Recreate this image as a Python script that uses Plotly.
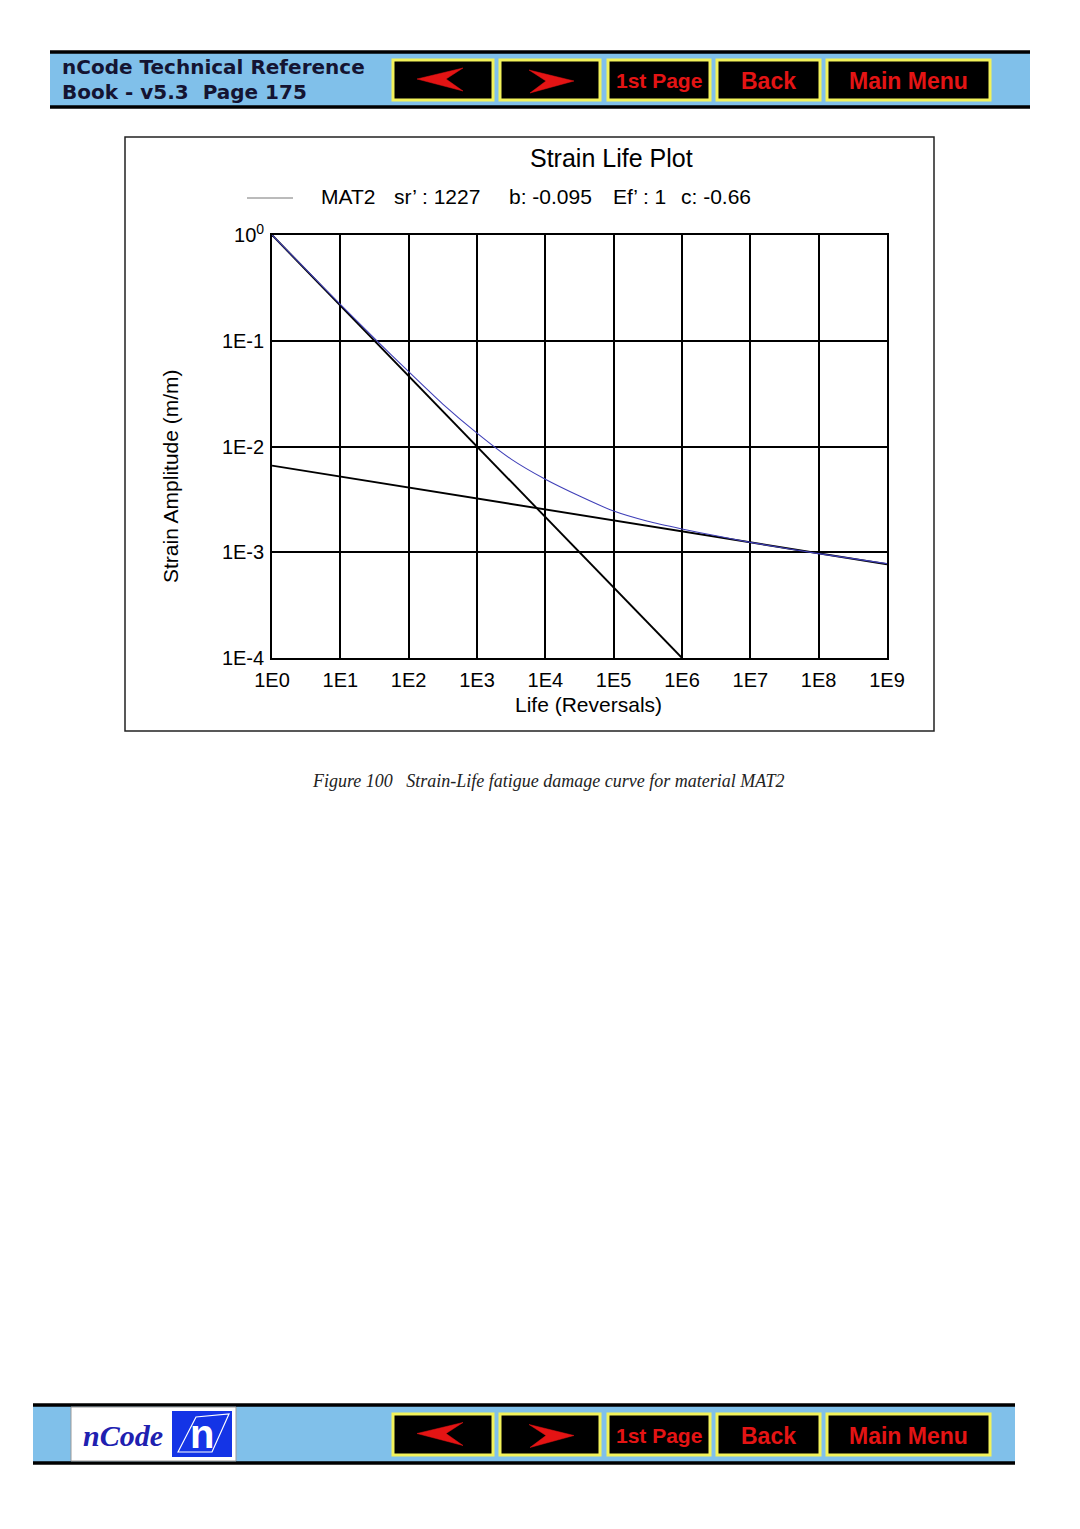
import plotly.graph_objects as go

W, H = 1080, 1529
OFF = 8  # page body margin of the html page

# ---------------- data ----------------
x_tick_vals = [1e0, 1e1, 1e2, 1e3, 1e4, 1e5, 1e6, 1e7, 1e8, 1e9]
x_tick_text = ["1E0", "1E1", "1E2", "1E3", "1E4", "1E5", "1E6", "1E7", "1E8", "1E9"]
y_tick_vals = [1e0, 1e-1, 1e-2, 1e-3, 1e-4]
y_tick_text = ["10<sup>0</sup>", "1E-1", "1E-2", "1E-3", "1E-4"]

plastic_life = [1e0, 1e6]
plastic_strain = [1.0, 1.0e-4]

elastic_life = [1e0, 1e9]
elastic_strain = [0.0066, 0.00077]

total_life = [1, 3.16, 10, 31.6, 100, 316, 1e3, 3.16e3, 1e4, 3.16e4, 1e5,
              3.16e5, 1e6, 3.16e6, 1e7, 1e8, 1e9]
total_strain = [1.0, 0.47, 0.221, 0.105, 0.051, 0.0252, 0.0134, 0.0076, 0.0049,
                0.0034, 0.00245, 0.00196, 0.00166, 0.00143, 0.00124, 0.00097, 0.00078]

nav_buttons = ["<", ">", "1st Page", "Back", "Main Menu"]
header_lines = ["nCode Technical Reference", "Book - v5.3  Page 175"]
legend_parts = ["MAT2", "sr’ : 1227", "b: -0.095", "Ef’ : 1", "c: -0.66"]
caption = "Figure 100   Strain-Life fatigue damage curve for material MAT2"

# ---------------- helpers ----------------
def px(x):
    return (x - OFF) / W

def py(y):
    return 1 - (y - OFF) / H

shapes = []
annotations = []

def rect(x0, y0, x1, y1, fill, line_color=None, line_width=0):
    shapes.append(dict(type="rect", xref="paper", yref="paper",
                       x0=px(x0), x1=px(x1), y0=py(y1), y1=py(y0),
                       fillcolor=fill,
                       line=dict(color=line_color or fill, width=line_width),
                       layer="above"))

def hline(x0, x1, y, color, width):
    shapes.append(dict(type="line", xref="paper", yref="paper",
                       x0=px(x0), x1=px(x1), y0=py(y), y1=py(y),
                       line=dict(color=color, width=width), layer="above"))

def poly(points, fill):
    d = "M " + " L ".join(f"{px(a):.5f},{py(b):.5f}" for a, b in points) + " Z"
    shapes.append(dict(type="path", xref="paper", yref="paper", path=d,
                       fillcolor=fill, line=dict(color=fill, width=0.5), layer="above"))

def text(x, y, s, size, color="black", family="Liberation Sans", xanchor="left",
         yanchor="middle", bold=False, italic=False, angle=0):
    if bold:
        s = f"<b>{s}</b>"
    if italic:
        s = f"<i>{s}</i>"
    annotations.append(dict(xref="paper", yref="paper", x=px(x), y=py(y), text=s,
                            showarrow=False, xanchor=xanchor, yanchor=yanchor,
                            textangle=angle,
                            font=dict(size=size, color=color, family=family)))

BAR_BLUE = "#80c0ea"
RED = "#e41414"
YEL = "#f2f25a"

def nav_bar(y0, y1, x0, x1, by0, by1):
    rect(x0, y0, x1, y1, BAR_BLUE)
    hline(x0, x1, y0, "black", 3.5)
    hline(x0, x1, y1, "black", 3.5)
    bx = [(393, 493), (500, 600), (608, 710), (717, 820), (827, 990)]
    cy = (by0 + by1) / 2
    for (a, b), lab in zip(bx, nav_buttons):
        rect(a, by0, b, by1, "black", YEL, 3)
        if lab == "<":
            poly([(417, cy - 1), (463, cy - 12), (446, cy - 1), (463, cy + 11)], RED)
        elif lab == ">":
            poly([(574, cy + 1), (529, cy - 10), (546, cy + 1), (530, cy + 13)], RED)
        else:
            size = 21 if lab == "1st Page" else 23
            text((a + b) / 2, cy + 1, lab, size, RED, "Liberation Sans Narrow, Liberation Sans",
                 xanchor="center", bold=True)

# header
nav_bar(52, 107, 50, 1030, 60, 100)
text(60, 67, header_lines[0], 20, "#141432", "DejaVu Sans", bold=True)
text(60, 92, header_lines[1], 20, "#141432", "DejaVu Sans", bold=True)

# footer
nav_bar(1405, 1463, 33, 1015, 1414, 1455)
rect(71, 1407, 236, 1461, "white", "#9a9a9a", 1)
text(81, 1435, "nCode", 30, "#2020b0", "Liberation Serif", bold=True, italic=True)
rect(172, 1411, 232, 1457, "#1434e6")
text(202, 1434, "n", 40, "white", "Liberation Sans", xanchor="center", bold=True)
shapes.append(dict(type="path", xref="paper", yref="paper",
                   path=f"M {px(178):.5f},{py(1452):.5f} L {px(196):.5f},{py(1417):.5f} "
                        f"L {px(229):.5f},{py(1414):.5f} L {px(212):.5f},{py(1452):.5f} Z",
                   line=dict(color="white", width=1.2), layer="above"))

# chart frame
shapes.append(dict(type="rect", xref="paper", yref="paper",
                   x0=px(125), x1=px(934), y0=py(731), y1=py(137),
                   line=dict(color="#222222", width=1.5), layer="below"))

# title, legend
text(611, 158, "Strain Life Plot", 25, xanchor="center")
hline(247, 293, 198, "#777777", 1)
for xpos, s in zip([319, 392, 507, 611, 679], legend_parts):
    text(xpos, 196, s, 21)

# axis titles
text(588, 704, "Life (Reversals)", 21, xanchor="center")
text(170, 476, "Strain Amplitude (m/m)", 21, xanchor="center", angle=-90)

# caption
text(548, 781, caption, 18, "#222222", "Liberation Serif", xanchor="center", italic=True)

# ---------------- figure ----------------
fig = go.Figure()
fig.add_trace(go.Scatter(x=plastic_life, y=plastic_strain, mode="lines",
                         line=dict(color="black", width=1.9), showlegend=False,
                         name="plastic"))
fig.add_trace(go.Scatter(x=elastic_life, y=elastic_strain, mode="lines",
                         line=dict(color="black", width=1.9), showlegend=False,
                         name="elastic"))
fig.add_trace(go.Scatter(x=total_life, y=total_strain, mode="lines",
                         line=dict(color="#4040b8", width=1.1, shape="spline", smoothing=0.6),
                         showlegend=False, name="MAT2"))

fig.update_layout(
    width=W, height=H, autosize=False,
    margin=dict(l=0, r=0, t=0, b=0, pad=0, autoexpand=False),
    paper_bgcolor="white", plot_bgcolor="white",
    shapes=shapes, annotations=annotations,
    font=dict(family="Liberation Sans", color="black"),
    xaxis=dict(type="log", range=[0, 9], domain=[px(272), px(887)],
               tickvals=x_tick_vals, ticktext=x_tick_text,
               tickfont=dict(size=20, color="black"), automargin=False,
               showgrid=True, gridcolor="black", gridwidth=1.7,
               showline=True, linecolor="black", linewidth=1.7, mirror=True,
               ticks="outside", ticklen=3, tickcolor="rgba(0,0,0,0)",
               zeroline=False),
    yaxis=dict(type="log", range=[-4, 0], domain=[py(658), py(235)],
               tickvals=y_tick_vals, ticktext=y_tick_text,
               tickfont=dict(size=20, color="black"), automargin=False,
               showgrid=True, gridcolor="black", gridwidth=1.7,
               showline=True, linecolor="black", linewidth=1.7, mirror=True,
               ticks="outside", ticklen=2, tickcolor="rgba(0,0,0,0)",
               zeroline=False),
)

fig.write_html("out.html")
